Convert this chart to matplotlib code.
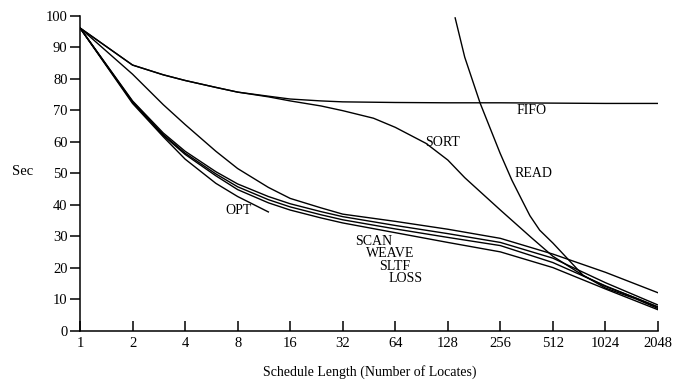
import numpy as np
from matplotlib import pyplot as plt

plt.rcParams['font.family'] = ['Liberation Serif', 'DejaVu Serif']

# schedule lengths (number of locates)
x_ticks = [1, 2, 4, 8, 16, 32, 64, 128, 256, 512, 1024, 2048]
y_ticks = [0, 10, 20, 30, 40, 50, 60, 70, 80, 90, 100]

fifo_x = [1, 2, 3, 4, 6, 8, 12, 16, 24, 32, 64, 128, 256, 512, 1024, 2048]
fifo_y = [96.2, 84.4, 81.3, 79.5, 77.3, 75.8, 74.5, 73.6, 73.0, 72.7, 72.5, 72.4, 72.4, 72.3, 72.2, 72.2]

sort_x = [1, 2, 3, 4, 6, 8, 12, 16, 24, 32, 48, 64, 96, 128, 160, 192, 256, 384, 512, 768, 1024, 1536, 2048]
sort_y = [96.2, 84.4, 81.3, 79.5, 77.3, 75.8, 74.3, 73.0, 71.4, 69.9, 67.5, 64.6, 59.5, 54.2, 48.6, 44.6, 38.3,
          29.6, 23.6, 17.4, 14.0, 10.3, 7.5]

read_x = [141, 160, 196, 255, 298, 340, 378, 430, 512, 761, 1024, 1536, 2048]
read_y = [99.4, 86.9, 72.3, 56.4, 47.8, 41.5, 36.5, 31.9, 27.8, 17.6, 13.5, 10.0, 7.0]

scan_x = [1, 2, 3, 4, 6, 8, 12, 16, 24, 32, 64, 128, 256, 512, 1024, 2048]
scan_y = [96.2, 81.5, 71.8, 65.5, 57.0, 51.5, 45.5, 42.0, 39.0, 37.0, 34.7, 32.2, 29.3, 24.3, 18.5, 12.0]

grp_x = [1, 2, 3, 4, 6, 8, 12, 16, 24, 32, 64, 128, 256, 512, 1024, 2048]
weave_y = [96.2, 73.0, 62.8, 57.0, 50.5, 46.6, 42.6, 40.3, 37.8, 36.2, 33.4, 30.8, 28.0, 23.0, 15.2, 8.1]
sltf_y = [96.2, 72.8, 62.3, 56.4, 49.8, 45.7, 41.6, 39.3, 36.8, 35.2, 32.3, 29.6, 27.0, 21.6, 14.2, 7.4]
loss_y = [96.2, 72.5, 62.0, 56.0, 49.2, 44.8, 40.6, 38.3, 35.8, 34.2, 31.1, 28.0, 25.0, 20.0, 13.2, 6.6]

opt_x = [1, 2, 3, 4, 6, 8, 12]
opt_y = [96.2, 72.2, 61.6, 54.5, 46.8, 42.6, 37.7]

fig = plt.figure(figsize=(6.84, 3.82), dpi=100)
ax = fig.add_axes([80 / 684, 1 - 330.5 / 382, 578 / 684, 314.5 / 382])

lw = 1.0
ax.plot(fifo_x, fifo_y, color='black', lw=lw)
ax.plot(sort_x, sort_y, color='black', lw=lw)
ax.plot(read_x, read_y, color='black', lw=lw)
ax.plot(scan_x, scan_y, color='black', lw=lw)
ax.plot(grp_x, weave_y, color='black', lw=lw)
ax.plot(grp_x, sltf_y, color='black', lw=lw)
ax.plot(grp_x, loss_y, color='black', lw=lw)
ax.plot(opt_x, opt_y, color='black', lw=lw)

ax.set_xscale('log', base=2)
ax.set_xlim(1, 2048)
ax.set_ylim(0, 100)
ax.set_xticks(x_ticks)
ax.set_xticklabels([str(v) for v in x_ticks])
ax.set_yticks(y_ticks)
ax.minorticks_off()

for s in ['top', 'right']:
    ax.spines[s].set_visible(False)
for s in ['left', 'bottom']:
    ax.spines[s].set_linewidth(1.1)

ax.tick_params(axis='x', direction='in', length=7, width=1.1, pad=4.5, labelsize=10.5)
ax.tick_params(axis='y', direction='out', length=7, width=1.1, pad=2, labelsize=10.5)

ax.set_xlabel('Schedule Length (Number of Locates)', fontsize=10)
ax.xaxis.set_label_coords(0.502, -0.1335)
ax.xaxis.label.set_va('center')
ax.set_ylabel('Sec', rotation=0, fontsize=10.5)
ax.yaxis.set_label_coords(-0.0986, 0.504)
ax.yaxis.label.set_va('center')
ax.yaxis.label.set_ha('center')

fs = 10
ax.text(315, 70.1, 'FIFO', fontsize=fs, va='center')
ax.text(94.7, 59.9, 'SORT', fontsize=fs, va='center')
ax.text(310, 50.0, 'READ', fontsize=fs, va='center')
ax.text(6.77, 38.3, 'OPT', fontsize=fs, va='center')
ax.text(37.6, 28.2, 'SCAN', fontsize=fs, va='center')
ax.text(43.5, 24.4, 'WEAVE', fontsize=fs, va='center')
ax.text(51.7, 20.3, 'SLTF', fontsize=fs, va='center')
ax.text(58.9, 16.6, 'LOSS', fontsize=fs, va='center')

plt.savefig('out.png', dpi=100)
